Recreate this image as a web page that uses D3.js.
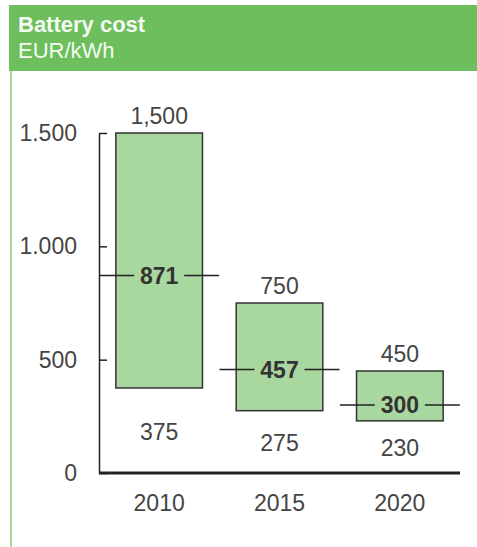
<!DOCTYPE html>
<html>
<head>
<meta charset="utf-8">
<script src="https://cdn.jsdelivr.net/npm/d3@7"></script>
<style>
  body { margin: 0; background: #fff; }
  svg { font-family: Arial, "Liberation Sans", sans-serif; }
</style>
</head>
<body>
<div id="chart"></div>
<script>
// data
const years = ["2010", "2015", "2020"];
const high = [1500, 750, 450];
const low = [375, 275, 230];
const mean = [871, 457, 300];
const yTicks = [0, 500, 1000, 1500];

const W = 477, H = 547;
const margin = { top: 133, right: 17, bottom: 74, left: 99 };
const width = W - margin.left - margin.right;
const height = H - margin.top - margin.bottom;
const fs = 23;

const svg = d3.select("#chart").append("svg")
  .attr("width", W)
  .attr("height", H);

// header band
svg.append("rect")
  .attr("x", 9).attr("y", 5)
  .attr("width", W - 9).attr("height", 66)
  .attr("fill", "#6cbf5c");
svg.append("text")
  .attr("x", 18).attr("y", 32)
  .attr("fill", "#f4faf2")
  .attr("font-size", 22)
  .attr("font-weight", "bold")
  .text("Battery cost");
svg.append("text")
  .attr("x", 18).attr("y", 58)
  .attr("fill", "#f4faf2")
  .attr("font-size", 22)
  .text("EUR/kWh");

// left frame line
svg.append("line")
  .attr("x1", 11).attr("x2", 11)
  .attr("y1", 71).attr("y2", H)
  .attr("stroke", "#a9d9a0")
  .attr("stroke-width", 2);

const g = svg.append("g")
  .attr("transform", `translate(${margin.left},${margin.top})`);

const x = d3.scaleBand()
  .domain(years)
  .range([0, width])
  .paddingInner(0.28)
  .paddingOuter(0.14);

const y = d3.scaleLinear()
  .domain([0, 1500])
  .range([height, 0]);

const de = d3.formatLocale({ decimal: ",", thousands: ".", grouping: [3], currency: ["", "€"] });

// y axis
const yAxis = g.append("g")
  .call(d3.axisLeft(y)
    .tickValues(yTicks)
    .tickFormat(de.format(","))
    .tickSizeInner(-8)
    .tickSizeOuter(0)
    .tickPadding(22));
yAxis.attr("font-family", null);
yAxis.select(".domain").attr("stroke", "#222").attr("stroke-width", 1.5);
yAxis.selectAll(".tick line").attr("stroke", "#222").attr("stroke-width", 1.5);
yAxis.selectAll(".tick text")
  .attr("font-size", fs)
  .attr("fill", "#444");

// bars
const rows = years.map((yr, i) => ({ yr, hi: high[i], lo: low[i], m: mean[i] }));

g.selectAll(".bar")
  .data(rows)
  .enter()
  .append("rect")
  .attr("class", "bar")
  .attr("x", (d) => x(d.yr))
  .attr("y", (d) => y(d.hi))
  .attr("width", x.bandwidth())
  .attr("height", (d) => y(d.lo) - y(d.hi))
  .attr("fill", "#a9d7a0")
  .attr("stroke", "#333")
  .attr("stroke-width", 1.5);

// x axis baseline
g.append("line")
  .attr("x1", 0).attr("x2", width)
  .attr("y1", y(0)).attr("y2", y(0))
  .attr("stroke", "#222")
  .attr("stroke-width", 3);

// year labels
g.selectAll(".year")
  .data(rows)
  .enter()
  .append("text")
  .attr("x", (d) => x(d.yr) + x.bandwidth() / 2)
  .attr("y", y(0) + 38)
  .attr("text-anchor", "middle")
  .attr("font-size", fs)
  .attr("fill", "#444")
  .text((d) => d.yr);

// high labels
g.selectAll(".hi")
  .data(rows)
  .enter()
  .append("text")
  .attr("x", (d) => x(d.yr) + x.bandwidth() / 2)
  .attr("y", (d) => y(d.hi) - 9)
  .attr("text-anchor", "middle")
  .attr("font-size", fs)
  .attr("fill", "#444")
  .text((d) => d3.format(",")(d.hi));

// low labels
g.selectAll(".lo")
  .data(rows)
  .enter()
  .append("text")
  .attr("x", (d) => x(d.yr) + x.bandwidth() / 2)
  .attr("y", (d) => y(d.lo / 2) + 9)
  .attr("text-anchor", "middle")
  .attr("font-size", fs)
  .attr("fill", "#444")
  .text((d) => d.lo);

// mean markers
const meanG = g.selectAll(".mean")
  .data(rows)
  .enter()
  .append("g")
  .attr("transform", (d) => `translate(${x(d.yr) + x.bandwidth() / 2},${y(d.m)})`);

[[-60, -25], [25, 60]].forEach(([a, b]) => {
  meanG.append("line")
    .attr("x1", a).attr("x2", b)
    .attr("stroke", "#222")
    .attr("stroke-width", 1.5);
});

meanG.append("text")
  .attr("text-anchor", "middle")
  .attr("dy", "0.36em")
  .attr("font-size", fs)
  .attr("font-weight", "bold")
  .attr("fill", "#333")
  .text((d) => d.m);
</script>
</body>
</html>
